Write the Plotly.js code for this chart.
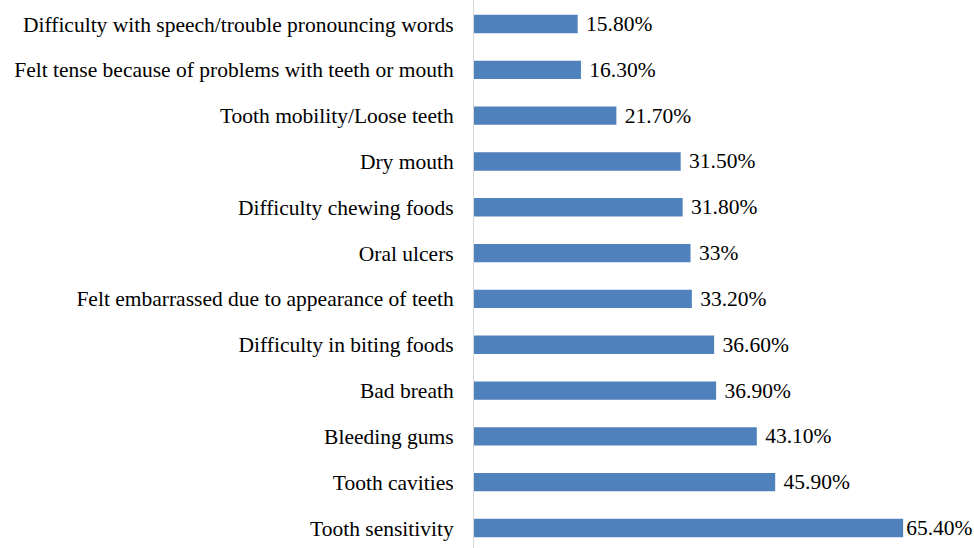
<!DOCTYPE html>
<html>
<head>
<meta charset="utf-8">
<script src="https://cdn.plot.ly/plotly-3.0.1.min.js"></script>
<style>html,body{margin:0;padding:0;background:#fff;}#chart{width:974px;height:548px;}</style>
</head>
<body>
<div id="chart"></div>
<script>
const categories = [
  "Difficulty with speech/trouble pronouncing words",
  "Felt tense because of problems with teeth or mouth",
  "Tooth mobility/Loose teeth",
  "Dry mouth",
  "Difficulty chewing foods",
  "Oral ulcers",
  "Felt embarrassed due to appearance of teeth",
  "Difficulty in biting foods",
  "Bad breath",
  "Bleeding gums",
  "Tooth cavities",
  "Tooth sensitivity"
];
const values = [15.8, 16.3, 21.7, 31.5, 31.8, 33, 33.2, 36.6, 36.9, 43.1, 45.9, 65.4];
const valueLabels = ["15.80%", "16.30%", "21.70%", "31.50%", "31.80%", "33%", "33.20%", "36.60%", "36.90%", "43.10%", "45.90%", "65.40%"];

const font = "'Liberation Serif', 'Times New Roman', serif";
const fs = 21.5;
// label offset: normal labels get a small gap; the longest bar's label sits closer to fit the page
const templates = values.map((v, i) => i === values.length - 1 ? '%{text}' : ' %{text}');

Plotly.newPlot('chart', [{
  type: 'bar',
  orientation: 'h',
  y: categories,
  x: values,
  text: valueLabels,
  texttemplate: templates,
  textposition: 'outside',
  constraintext: 'none',
  textfont: {family: font, size: fs, color: '#000'},
  cliponaxis: false,
  width: 0.4,
  marker: {color: '#4f81bd'},
  hoverinfo: 'none'
}], {
  width: 974,
  height: 548,
  margin: {l: 474, r: 0, t: 0, b: 0, pad: 0},
  paper_bgcolor: '#fff',
  plot_bgcolor: '#fff',
  showlegend: false,
  font: {family: font, size: fs, color: '#000'},
  xaxis: {
    range: [0, 76.2],
    showgrid: false,
    zeroline: false,
    showline: false,
    showticklabels: false,
    ticks: ''
  },
  yaxis: {
    type: 'category',
    categoryorder: 'array',
    categoryarray: categories,
    range: [11.436, -0.524],
    showgrid: false,
    zeroline: false,
    showline: true,
    linecolor: '#d9d9d9',
    linewidth: 1,
    ticks: '',
    ticklabelstandoff: 15,
    tickfont: {family: font, size: fs, color: '#000'}
  }
}, {staticPlot: true, displayModeBar: false});
</script>
</body>
</html>
